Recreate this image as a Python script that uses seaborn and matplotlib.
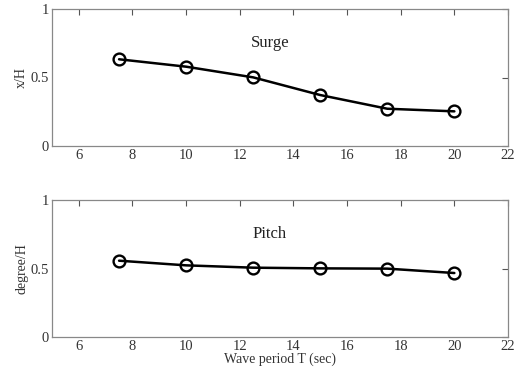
import matplotlib
matplotlib.use("Agg")
import matplotlib.pyplot as plt
import seaborn as sns
import pandas as pd

sns.set_style("white")
plt.rcParams['font.family'] = ['Liberation Serif', 'DejaVu Serif']

period = [7.5, 10, 12.5, 15, 17.5, 20]
surge = [0.633, 0.579, 0.501, 0.372, 0.272, 0.253]
pitch = [0.557, 0.523, 0.506, 0.501, 0.499, 0.467]

x_ticks = [6, 8, 10, 12, 14, 16, 18, 20, 22]
y_ticks = [0, 0.5, 1]
y_ticklabels = ["0", "0.5", "1"]

fig = plt.figure(figsize=(5.19, 3.68), dpi=100)
W, H = 519, 368
ax1 = fig.add_axes([52 / W, 1 - 146 / H, (508 - 52) / W, (146 - 9) / H])
ax2 = fig.add_axes([52 / W, 1 - 337 / H, (508 - 52) / W, (337 - 200) / H])

df1 = pd.DataFrame({"T": period, "v": surge})
df2 = pd.DataFrame({"T": period, "v": pitch})

for ax, df, lab, title in [(ax1, df1, "x/H", "Surge"), (ax2, df2, "degree/H", "Pitch")]:
    sns.lineplot(data=df, x="T", y="v", ax=ax, color="black", linewidth=1.8,
                 marker="o", markersize=8.5, markerfacecolor="none",
                 markeredgecolor="black", markeredgewidth=1.7)
    ax.set_xlim(5, 22)
    ax.set_ylim(0, 1)
    ax.set_xticks(x_ticks)
    ax.set_yticks(y_ticks)
    ax.set_yticklabels(y_ticklabels)
    ax.tick_params(direction="in", top=True, right=True, length=4, width=0.8,
                   colors="#555555", labelsize=10.5, labelcolor="#333333", pad=2)
    for s in ax.spines.values():
        s.set_color("#888888")
        s.set_linewidth(0.9)
    ax.set_ylabel(lab, fontsize=10, color="#333333", labelpad=2)
    ax.set_xlabel("")
    ax.text(0.478, 0.75, title, transform=ax.transAxes, ha="center", va="center",
            fontsize=12, color="#222222")

ax2.set_xlabel("Wave period T (sec)", fontsize=10, color="#333333", labelpad=0)

fig.savefig("out.png", dpi=100)
